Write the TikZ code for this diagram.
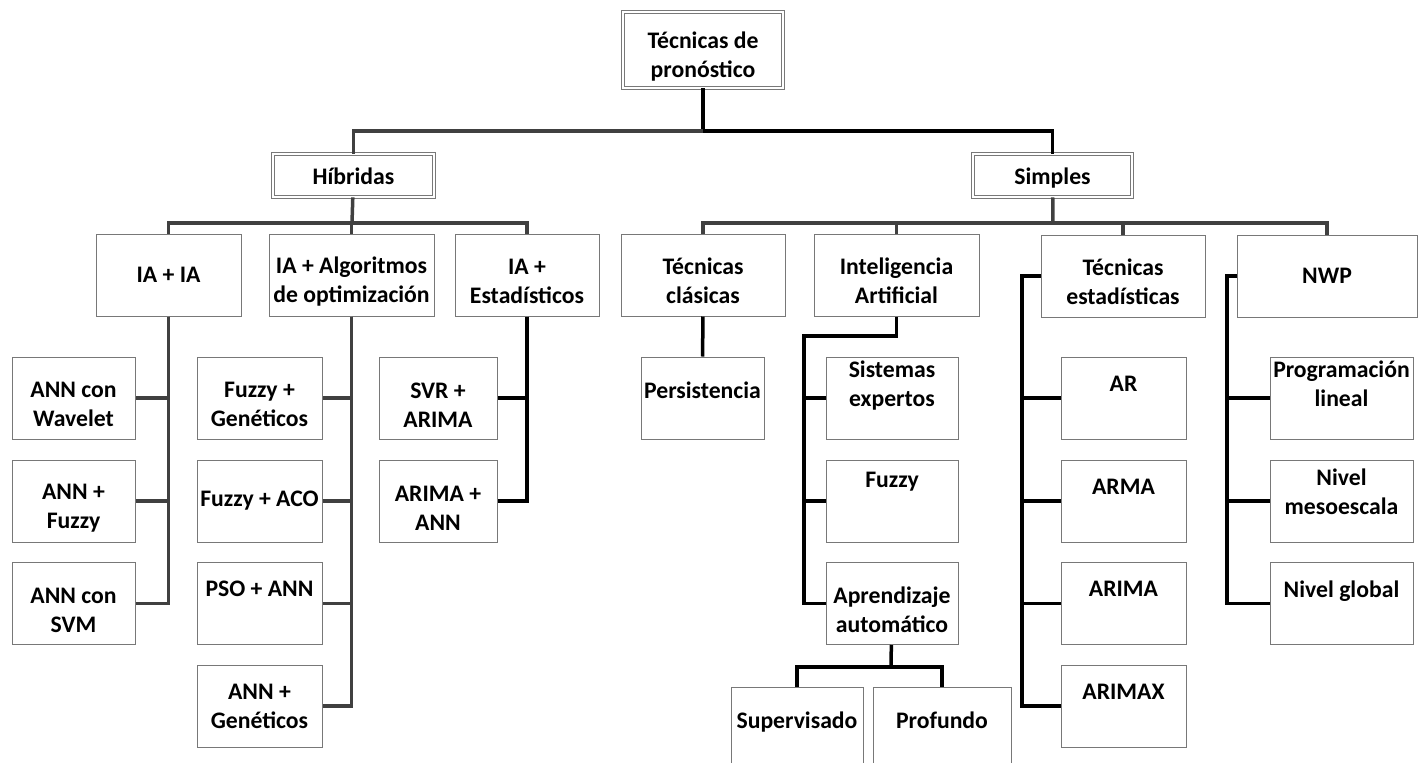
\documentclass[tikz,border=0pt]{standalone}
\usepackage{fontspec}
\setmainfont{Carlito}
\definecolor{linegray}{RGB}{64,64,64}
\definecolor{boxgray}{RGB}{120,120,120}

\begin{document}
\begin{tikzpicture}[x=1pt,y=-1pt,
  box/.style={draw=boxgray, line width=1pt, fill=white, inner sep=0pt,
    minimum height=82pt, align=center,
    font=\fontsize{23.7}{29}\selectfont\bfseries},
  two/.style={text height=58pt},
  mid/.style={text height=17pt, text depth=17pt},
  dbox/.style={box, double=white, double distance=2.2pt, line width=0.9pt},
  gl/.style={draw=linegray, line width=3.5pt},
  bl/.style={draw=black, line width=3.5pt}]
  \useasboundingbox (0,0) rectangle (1425,763);
  \clip (0,0) rectangle (1425,763);
  \node[dbox, two, minimum width=160pt, minimum height=76pt] (tec) at (703,50) {Técnicas de\\pronóstico};
  \node[dbox, text height=17pt, text depth=0pt, minimum width=161pt, minimum height=43pt] (hib) at (353.5,175.5) {Híbridas};
  \node[dbox, text height=17pt, text depth=0pt, minimum width=159pt, minimum height=43pt] (sim) at (1052.5,175.5) {Simples};
  \node[box, minimum width=145pt] (iaia) at (168.5,275) {IA + IA};
  \node[box, two, minimum width=165pt] (iaalg) at (351.5,275) {IA + Algoritmos\\de optimización};
  \node[box, two, minimum width=144pt] (iaest) at (527,275) {IA +\\Estadísticos};
  \node[box, two, minimum width=164pt] (tcl) at (703,275) {Técnicas\\clásicas};
  \node[box, two, minimum width=165pt] (intel) at (896.5,275) {Inteligencia\\Artificial};
  \node[box, two, minimum width=164pt] (test) at (1123,276) {Técnicas\\estadísticas};
  \node[box, minimum width=180pt] (nwp) at (1327,276) {NWP};
  \node[box, two, minimum width=123pt] (annw) at (73.5,398) {ANN con\\Wavelet};
  \node[box, two, minimum width=123pt] (annf) at (73.5,501) {ANN +\\Fuzzy};
  \node[box, two, minimum width=123pt] (anns) at (73.5,603.5) {ANN con\\SVM};
  \node[box, two, minimum width=125pt] (fgen) at (259.5,398) {Fuzzy +\\Genéticos};
  \node[box, minimum width=125pt] (faco) at (259.5,501) {Fuzzy + ACO};
  \node[box, minimum width=125pt] (psoann) at (259.5,603.5) {PSO + ANN\\\mbox{}};
  \node[box, minimum width=125pt] (anngen) at (259.5,706) {ANN +\\Genéticos};
  \node[box, two, minimum width=118pt] (svr) at (438,398) {SVR +\\ARIMA};
  \node[box, two, minimum width=118pt] (arann) at (438,501) {ARIMA +\\ANN};
  \node[box, mid, minimum width=123pt] (pers) at (702.5,398) {Persistencia};
  \node[box, minimum width=132pt] (sis) at (892,398) {Sistemas\\expertos\\\mbox{}};
  \node[box, text height=31pt, minimum width=132pt] (fuz) at (892,501) {Fuzzy\\\mbox{}};
  \node[box, two, minimum width=132pt] (apr) at (892,603.5) {Aprendizaje\\automático};
  \node[box, mid, minimum width=132pt] (sup) at (797,728) {Supervisado};
  \node[box, mid, minimum width=138pt] (pro) at (942,728) {Profundo};
  \node[box, minimum width=125pt] (ar) at (1123.5,398) {AR\\\mbox{}};
  \node[box, minimum width=125pt] (arma) at (1123.5,501) {ARMA\\\mbox{}};
  \node[box, minimum width=125pt] (arima) at (1123.5,603.5) {ARIMA\\\mbox{}};
  \node[box, minimum width=125pt] (arimax) at (1123.5,706) {ARIMAX\\\mbox{}};
  \node[box, minimum width=143pt] (prog) at (1341.5,398) {Programación\\lineal\\\mbox{}};
  \node[box, text height=28pt, minimum width=143pt] (meso) at (1341.5,501) {Nivel\\mesoescala};
  \node[box, minimum width=143pt] (glob) at (1341.5,603.5) {Nivel global\\\mbox{}};
  \coordinate (j0) at (703,131);
  \coordinate (hj) at (352,223);
  \coordinate (sj) at (1053,223);
  \coordinate (ij) at (804,336);
  \coordinate (aj) at (891,667);
  \coordinate (tj) at (1022,276);
  \coordinate (nj) at (1227,276);
  \draw[bl] (tec) -- (j0);
  \draw[gl] (j0) -| (hib);
  \draw[bl] (j0) -| (sim);
  \draw[gl] (hib) -- (hj);
  \draw[gl] (hj) -| (iaia);
  \draw[gl] (hj) -| (iaalg);
  \draw[gl] (hj) -| (iaest);
  \draw[gl] (sim) -- (sj);
  \draw[gl] (sj) -| (tcl);
  \draw[gl] (sj) -| (intel);
  \draw[gl] (sj) -| (test);
  \draw[gl] (sj) -| (nwp);
  \draw[gl] (iaia) |- (annw);
  \draw[gl] (iaia) |- (annf);
  \draw[gl] (iaia) |- (anns);
  \draw[gl] (iaalg) |- (fgen);
  \draw[gl] (iaalg) |- (faco);
  \draw[gl] (iaalg) |- (psoann);
  \draw[gl] (iaalg) |- (anngen);
  \draw[bl] (iaest) |- (svr);
  \draw[bl] (iaest) |- (arann);
  \draw[bl] (tcl) -- (pers);
  \draw[bl] (intel) |- (ij) |- (sis);
  \draw[bl] (ij) |- (fuz);
  \draw[bl] (ij) |- (apr);
  \draw[bl] (apr) -- (aj);
  \draw[bl] (aj) -| (sup);
  \draw[bl] (aj) -| (pro);
  \draw[bl] (test) -- (tj) |- (ar);
  \draw[bl] (tj) |- (arma);
  \draw[bl] (tj) |- (arima);
  \draw[bl] (tj) |- (arimax);
  \draw[bl] (nwp) -- (nj) |- (prog);
  \draw[bl] (nj) |- (meso);
  \draw[bl] (nj) |- (glob);
\end{tikzpicture}
\end{document}
